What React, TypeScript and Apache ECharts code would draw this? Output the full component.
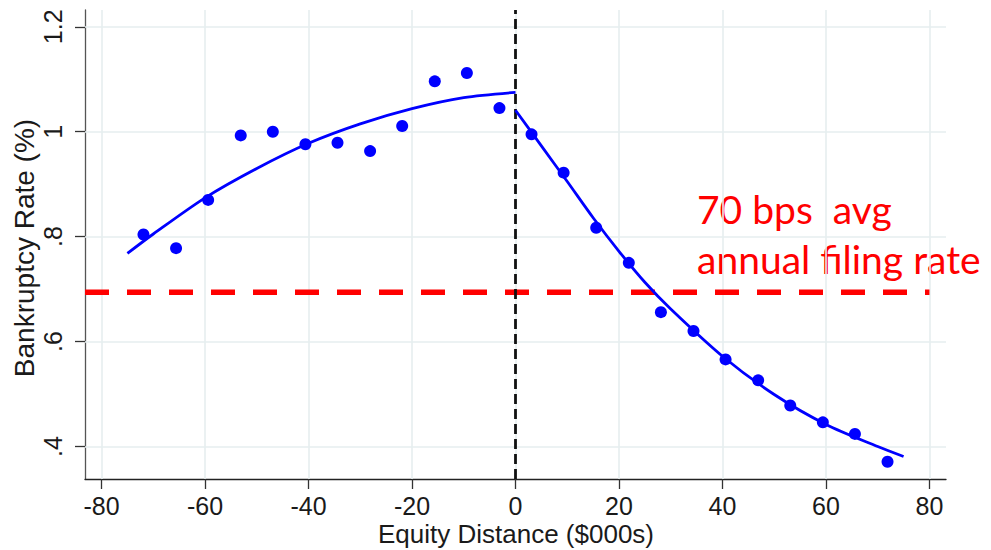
import React, { useEffect, useRef } from "react";
import * as echarts from "echarts";

// Binned scatter: left of threshold
const leftX = [-71.9, -65.6, -59.4, -53.1, -46.9, -40.6, -34.4, -28.1, -21.9, -15.6, -9.4, -3.1];
const leftY = [0.804, 0.778, 0.87, 0.993, 1.0, 0.976, 0.979, 0.963, 1.011, 1.096, 1.112, 1.045];
// Binned scatter: right of threshold
const rightX = [3.1, 9.3, 15.6, 21.9, 28.1, 34.4, 40.6, 46.9, 53.1, 59.4, 65.6, 71.9];
const rightY = [0.995, 0.922, 0.817, 0.75, 0.656, 0.62, 0.566, 0.526, 0.478, 0.446, 0.424, 0.371];
// Fitted curves
const leftFitX = [-75, -70, -60, -50, -40, -30, -20, -10, 0];
const leftFitY = [0.768, 0.805, 0.874, 0.93, 0.978, 1.015, 1.044, 1.065, 1.075];
const rightFitX = [0, 5, 10, 15, 20, 25, 30, 40, 50, 60, 70, 75];
const rightFitY = [1.041, 0.973, 0.905, 0.836, 0.772, 0.713, 0.662, 0.572, 0.499, 0.442, 0.4, 0.381];
// Reference line
const avgRate = 0.694;
const avgLineEndX = 80;
// Axes
const xTicks = [-80, -60, -40, -20, 0, 20, 40, 60, 80];
const yTicks = [0.4, 0.6, 0.8, 1.0, 1.2];
const xMin = -83.2;
const xMax = 83.2;
const yMin = 0.338;
const yMax = 1.232;
const annotationLines = ["70 bps  avg", "annual filing rate"];
const xTitle = "Equity Distance ($000s)";
const yTitle = "Bankruptcy Rate (%)";

const zip = (xs: number[], ys: number[]) => xs.map((x, i) => [x, ys[i]]);

export default function App() {
  const ref = useRef<HTMLDivElement>(null);
  useEffect(() => {
    if (!ref.current) return;
    const chart = echarts.init(ref.current, null, { renderer: "svg" });
    const textColor = "#1a1a1a";
    const font = "'Liberation Sans', Arial, sans-serif";
    const gridColor = "#e6eeef";
    const redFont = "Lato, 'Open Sans', sans-serif";
    chart.setOption({
      animation: false,
      backgroundColor: "#ffffff",
      grid: { show: false, left: 85, top: 10, right: 45, bottom: 71, containLabel: false },
      xAxis: {
        type: "value",
        min: xMin,
        max: xMax,
        axisLine: { show: true, onZero: false, lineStyle: { color: "#222", width: 1.3 } },
        axisTick: { show: true, length: 10, customValues: xTicks, lineStyle: { color: "#333", width: 1.3 } },
        axisLabel: {
          customValues: xTicks,
          margin: 14,
          fontSize: 25,
          fontFamily: font,
          color: textColor,
        },
        splitLine: { show: false },
        splitArea: { show: false },
        minorSplitLine: { show: false },
      },
      yAxis: {
        type: "value",
        min: yMin,
        max: yMax,
        axisLine: { show: true, onZero: false, lineStyle: { color: "#555", width: 1.3 } },
        axisTick: { show: true, length: 10, customValues: yTicks, lineStyle: { color: "#333", width: 1.3 } },
        axisLabel: {
          customValues: yTicks,
          rotate: 90,
          margin: 20,
          fontSize: 25,
          fontFamily: font,
          color: textColor,
          formatter: (v: number) => String(+v.toFixed(1)).replace(/^0\./, "."),
        },
        splitLine: { show: false },
        splitArea: { show: false },
        minorSplitLine: { show: false },
      },
      graphic: [
        {
          type: "text",
          x: 24,
          y: 248,
          rotation: Math.PI / 2,
          style: {
            text: yTitle,
            fontSize: 28,
            fontFamily: font,
            fill: textColor,
            align: "center",
            verticalAlign: "middle",
          },
        },
        {
          type: "text",
          x: 516,
          y: 534,
          style: {
            text: xTitle,
            fontSize: 26,
            fontFamily: font,
            fill: textColor,
            align: "center",
            verticalAlign: "middle",
          },
        },
        {
          type: "text",
          x: 697,
          y: 209,
          style: {
            text: annotationLines[0],
            fontSize: 39,
            fontFamily: redFont,
            fill: "#ff0000",
            align: "left",
            verticalAlign: "middle",
          },
        },
        {
          type: "text",
          x: 697,
          y: 259,
          style: {
            text: annotationLines[1],
            fontSize: 39,
            fontFamily: redFont,
            fill: "#ff0000",
            align: "left",
            verticalAlign: "middle",
          },
        },
      ],
      series: [
        {
          name: "grid",
          type: "line",
          data: [],
          silent: true,
          z: 1,
          markLine: {
            silent: true,
            z: 1,
            symbol: "none",
            label: { show: false },
            lineStyle: { color: gridColor, width: 1.6, type: "solid" },
            emphasis: { disabled: true },
            data: [
              ...xTicks.map((v) => ({ xAxis: v })),
              ...yTicks.map((v) => ({ yAxis: v })),
            ],
          },
        },
        {
          name: "avg",
          type: "line",
          data: [[xMin, avgRate], [avgLineEndX, avgRate]],
          symbol: "none",
          lineStyle: { color: "#ff0000", width: 5.5, type: [24, 18] },
          z: 3,
        },
        {
          name: "threshold",
          type: "line",
          data: [[0, yMin], [0, yMax]],
          symbol: "none",
          lineStyle: { color: "#111", width: 2.8, type: [10, 5] },
          z: 4,
        },
        {
          name: "leftFit",
          type: "line",
          data: zip(leftFitX, leftFitY),
          symbol: "none",
          smooth: 0.3,
          lineStyle: { color: "#0000ff", width: 2.8 },
          z: 5,
        },
        {
          name: "rightFit",
          type: "line",
          data: zip(rightFitX, rightFitY),
          symbol: "none",
          smooth: 0.3,
          lineStyle: { color: "#0000ff", width: 2.8 },
          z: 5,
        },
        {
          name: "left",
          type: "scatter",
          data: zip(leftX, leftY),
          symbolSize: 12,
          itemStyle: { color: "#0000ff", opacity: 1 },
          z: 6,
        },
        {
          name: "right",
          type: "scatter",
          data: zip(rightX, rightY),
          symbolSize: 12,
          itemStyle: { color: "#0000ff", opacity: 1 },
          z: 6,
        },
      ],
    });
    return () => chart.dispose();
  }, []);
  return (
    <div
      ref={ref}
      style={{ position: "fixed", left: 0, top: 0, width: 991, height: 550, background: "#fff" }}
    />
  );
}
